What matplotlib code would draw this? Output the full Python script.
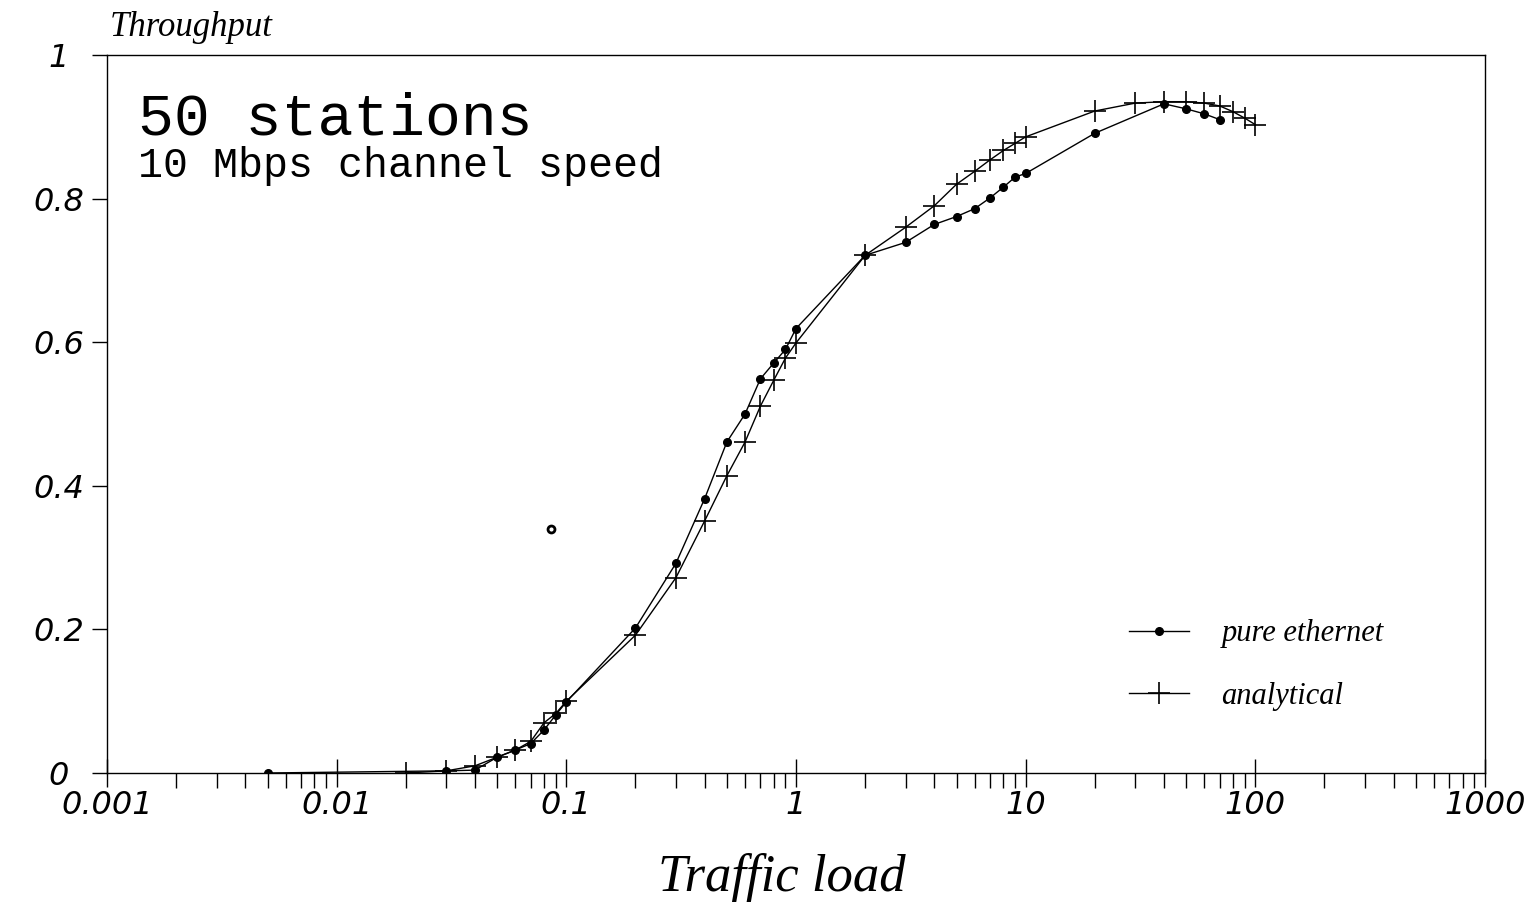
import numpy as np
import matplotlib
matplotlib.use("Agg")
import matplotlib.pyplot as plt

# Simulated throughput vs offered load (pure ethernet, dots)
eth_load = [0.005, 0.03, 0.04, 0.05, 0.06, 0.07, 0.08, 0.09, 0.1,
            0.2, 0.3, 0.4, 0.5, 0.6, 0.7, 0.8, 0.9, 1.0,
            2, 3, 4, 5, 6, 7, 8, 9, 10, 20, 40, 50, 60, 70]
eth_thru = [0.0, 0.003, 0.004, 0.022, 0.032, 0.041, 0.060, 0.081, 0.099,
            0.202, 0.292, 0.382, 0.461, 0.500, 0.549, 0.571, 0.590, 0.619,
            0.721, 0.739, 0.764, 0.775, 0.786, 0.801, 0.816, 0.830, 0.835,
            0.891, 0.932, 0.925, 0.918, 0.910]

# Analytical model (crosses)
ana_load = [0.02, 0.03, 0.04, 0.05, 0.06, 0.07, 0.08, 0.09, 0.1,
            0.2, 0.3, 0.4, 0.5, 0.6, 0.7, 0.8, 0.9, 1.0,
            2, 3, 4, 5, 6, 7, 8, 9, 10, 20, 30, 40, 50, 60, 70, 80, 90, 100]
ana_thru = [0.0, 0.003, 0.010, 0.022, 0.032, 0.044, 0.070, 0.083, 0.100,
            0.192, 0.272, 0.351, 0.414, 0.461, 0.511, 0.547, 0.578, 0.599,
            0.721, 0.760, 0.790, 0.820, 0.838, 0.854, 0.867, 0.877, 0.886,
            0.922, 0.933, 0.935, 0.935, 0.933, 0.929, 0.921, 0.912, 0.903]

# lone stray point on the original plot
stray_load = [0.0857]
stray_thru = [0.34]

x_ticks = [0.001, 0.01, 0.1, 1, 10, 100, 1000]
x_labels = ["0.001", "0.01", "0.1", "1", "10", "100", "1000"]
y_ticks = [0, 0.2, 0.4, 0.6, 0.8, 1]
y_labels = ["0", "0.2", "0.4", "0.6", "0.8", "1"]

script = "Liberation Serif"

fig = plt.figure(figsize=(15.37, 9.21), dpi=100)
ax = fig.add_axes([107 / 1537, 1 - 773 / 921, 1378 / 1537, 718 / 921])

ax.plot(eth_load, eth_thru, color="black", lw=1.0, marker="o", ms=5.5,
        label="pure ethernet")
ax.plot(ana_load, ana_thru, color="black", lw=1.0, marker="+", ms=16,
        mew=1.2, label="analytical")
ax.plot(stray_load, stray_thru, ls="none", marker="o", ms=5, mfc="white",
        mec="black", mew=2)

ax.set_xscale("log")
ax.set_xlim(1e-3, 1e3)
ax.set_ylim(0, 1)

ax.set_xticks(x_ticks)
ax.set_xticklabels(x_labels, fontsize=23, style="italic")
ax.set_xticks([m * d for d in x_ticks[:-1] for m in range(2, 10)], minor=True)
ax.xaxis.set_minor_formatter(matplotlib.ticker.NullFormatter())
ax.tick_params(axis="x", which="major", direction="inout", length=20,
               width=1, pad=2)
ax.tick_params(axis="x", which="minor", direction="out", length=11, width=1)

ax.set_yticks(y_ticks)
ax.set_yticklabels(y_labels, fontsize=23, style="italic", ha="center")
ax.tick_params(axis="y", direction="out", length=11, width=1, pad=24)

for s in ax.spines.values():
    s.set_linewidth(1.0)

# big annotation in the upper left
ax.text(0.0225, 0.889, "50 stations", transform=ax.transAxes,
        fontsize=43, family="Liberation Mono", va="baseline")
ax.text(0.0225, 0.830, "10 Mbps channel speed", transform=ax.transAxes,
        fontsize=30, family="Liberation Mono", va="baseline")

fig.text(110 / 1537, 1 - 27 / 921, "Throughput", fontsize=25,
         family=script, style="italic", va="center")
fig.text(782 / 1537, 1 - 877 / 921, "Traffic load", fontsize=38,
         family=script, style="italic", ha="center", va="center")

ax.legend(loc="upper left", bbox_to_anchor=(0.742, 0.214), frameon=False,
          prop={"family": script, "style": "italic", "size": 22},
          handlelength=1.96, handletextpad=1.05, labelspacing=1.1,
          borderpad=0, borderaxespad=0, numpoints=1)

fig.savefig("out.png", dpi=100)
